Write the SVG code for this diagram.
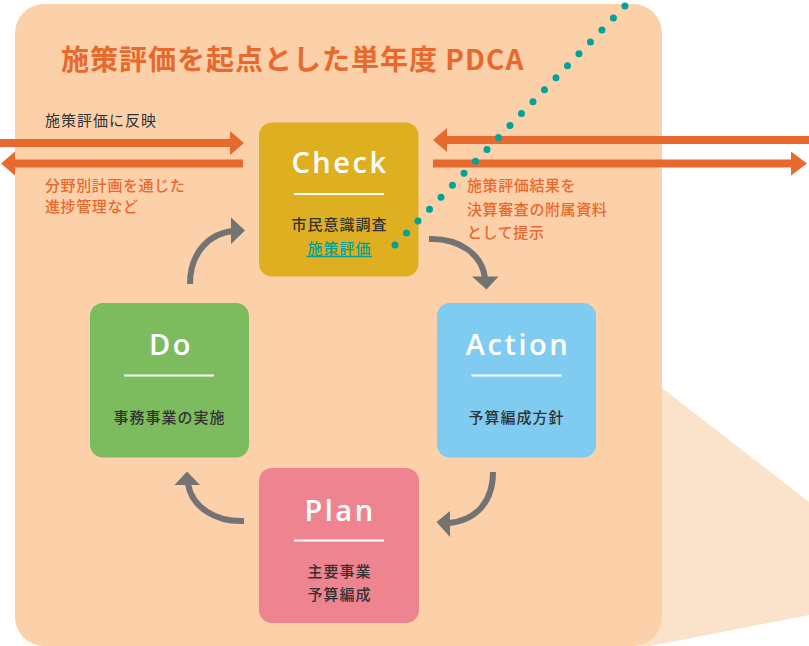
<svg xmlns="http://www.w3.org/2000/svg" width="809" height="646" viewBox="0 0 809 646">
<defs>
<style>
.jp{font-family:"Noto Sans CJK JP","Noto Sans",sans-serif;}
.lbl{font-family:"Noto Sans CJK JP",sans-serif;font-size:15px;font-weight:500;fill:#333333;letter-spacing:1px;text-anchor:middle;}
.ttl{font-family:"Open Sans","Noto Sans",sans-serif;font-size:29px;font-weight:600;fill:#ffffff;letter-spacing:2.5px;text-anchor:middle;}
.rule{stroke:#ffffff;stroke-width:2;}
.orn{fill:#E8692E;}
.gray{fill:none;stroke:#737373;stroke-width:6;}
.ghead{fill:#737373;}
.note{font-family:"Noto Sans CJK JP",sans-serif;font-size:15px;font-weight:500;fill:#E8692E;letter-spacing:0.6px;}
</style>
</defs>
<rect width="809" height="646" fill="#ffffff"/>
<polygon points="640,371 809,502 809,615 640,648" fill="#FBE2CA"/>
<rect x="15" y="4" width="647" height="642" rx="29" fill="#FCD0A8"/>
<text x="61" y="70" class="jp" font-size="28" font-weight="700" fill="#E8692E" letter-spacing="1">施策評価を起点とした単年度 PDCA</text>

<g id="connectors">
  <g id="arrow-left-in">
    <rect x="0" y="139" width="232" height="8" class="orn"/>
    <polygon points="230,131 244,143 230,155" class="orn"/>
  </g>
  <g id="arrow-left-out">
    <rect x="13" y="159.5" width="230" height="8" class="orn"/>
    <polygon points="15,151.5 1,163.5 15,175.5" class="orn"/>
  </g>
  <g id="arrow-right-in">
    <rect x="445" y="136" width="364" height="8" class="orn"/>
    <polygon points="447,128 433,140 447,152" class="orn"/>
  </g>
  <g id="arrow-right-out">
    <rect x="433" y="159.5" width="360" height="8" class="orn"/>
    <polygon points="791,151.5 807,163.5 791,175.5" class="orn"/>
  </g>
  <g id="do-to-check">
    <path d="M190,284 C190,254 208,233 234,231" class="gray"/>
    <polygon points="231,217.5 245,230.5 231,244" class="ghead"/>
  </g>
  <g id="check-to-action">
    <path d="M429,239 C459,238 482,254 485,278" class="gray"/>
    <polygon points="472,276.5 498.5,276.5 486.5,289.5" class="ghead"/>
  </g>
  <g id="action-to-plan">
    <path d="M493,472 C493,500 478,520 449,523" class="gray"/>
    <polygon points="450,511 436.5,522 450,537" class="ghead"/>
  </g>
  <g id="plan-to-do">
    <path d="M244,521 C215,522 192,507 188,484" class="gray"/>
    <polygon points="174.5,485 187,471.5 200,485" class="ghead"/>
  </g>
</g>

<g id="note-left-top">
  <text x="45" y="126" class="jp" font-size="15" fill="#333333" letter-spacing="1">施策評価に反映</text>
</g>
<g id="note-left-bottom">
  <text x="45" y="191" class="note">分野別計画を通じた</text>
  <text x="45" y="212" class="note">進捗管理など</text>
</g>
<g id="note-right">
  <text x="467" y="191" class="note">施策評価結果を</text>
  <text x="467" y="215" class="note">決算審査の附属資料</text>
  <text x="467" y="238" class="note">として提示</text>
</g>

<g id="node-check">
  <rect x="259" y="122.5" width="159.5" height="154" rx="13" fill="#DEB021"/>
  <text x="340" y="173" class="ttl">Check</text>
  <line x1="294" y1="194" x2="384" y2="194" class="rule"/>
  <text x="339.5" y="230" class="lbl">市民意識調査</text>
  <text x="339.5" y="253.5" class="lbl" style="fill:#00A29A">施策評価</text>
  <line x1="306.5" y1="256.5" x2="372" y2="256.5" stroke="#00A29A" stroke-width="1.5"/>
</g>
<g id="node-do">
  <rect x="90" y="303" width="159" height="154.5" rx="13" fill="#7DBB5F"/>
  <text x="171" y="354.5" class="ttl">Do</text>
  <line x1="124" y1="375.5" x2="214" y2="375.5" class="rule"/>
  <text x="169.5" y="423" class="lbl">事務事業の実施</text>
</g>
<g id="node-action">
  <rect x="437" y="303" width="159" height="154.5" rx="13" fill="#80CCF1"/>
  <text x="518" y="355" class="ttl">Action</text>
  <line x1="471.5" y1="375.5" x2="561.5" y2="375.5" class="rule"/>
  <text x="516.5" y="423" class="lbl">予算編成方針</text>
</g>
<g id="node-plan">
  <rect x="259" y="468" width="160" height="155" rx="13" fill="#EF8491"/>
  <text x="340" y="521" class="ttl">Plan</text>
  <line x1="294" y1="540.5" x2="384" y2="540.5" class="rule"/>
  <text x="339.5" y="577" class="lbl">主要事業</text>
  <text x="339.5" y="600" class="lbl">予算編成</text>
</g>

<g id="dotted-line">
  <path d="M395,245 L625,6" fill="none" stroke="#00A29A" stroke-width="7" stroke-linecap="round" stroke-dasharray="0 16.58"/>
</g>
</svg>
